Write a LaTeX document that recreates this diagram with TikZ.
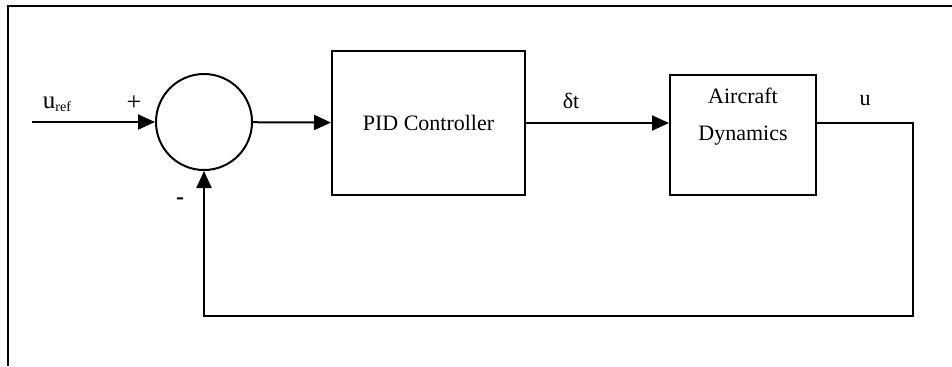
\documentclass[tikz,border=0pt]{standalone}
\usepackage{fontspec}
\setmainfont{Liberation Serif}
\usetikzlibrary{arrows.meta}

\tikzset{
  blk/.style={draw, line width=1pt, inner sep=0pt},
  sig/.style={line width=1pt, -{Triangle[length=8.5pt,width=7.5pt]}},
  lbl/.style={font=\fontsize{11}{12}\selectfont}
}

\begin{document}
\begin{tikzpicture}[x=0.5pt,y=-0.5pt]
    \useasboundingbox (0,0) rectangle (952,366);
    % frame
    \draw[line width=1.2pt] (952,6) -- (8,6) -- (8,366);
    % blocks
    \coordinate (in) at (32,122);
    \node[blk, circle, minimum size=48pt] (sum) at (204,122) {};
    \node[blk, lbl, minimum width=96.5pt, minimum height=72pt] (pid) at (428.5,123) {PID Controller};
    \node[blk, minimum width=73pt, minimum height=60pt] (dyn) at (743,135) {};
    \node[lbl, align=center, font=\fontsize{11}{18.5}\selectfont] (dyntxt) at (743,117) {Aircraft\\Dynamics};
    \coordinate (fb) at (913,316);
    % signals
    \draw[sig] (in) -- (sum);
    \draw[sig] (sum) -- (pid);
    \draw[sig] (pid.east) -- (dyn.west |- pid.east);
    \draw[sig] (dyn.east |- pid.east) -| (fb) -| (sum.south);
    % labels
    \node[font=\fontsize{12.5}{14}\selectfont] (uref) at (57,104) {u{\fontsize{7}{8}\selectfont\raisebox{-1.5pt}{ref}}};
    \node[font=\fontsize{13}{14}\selectfont] (plus) at (134,103) {+};
    \node[font=\fontsize{12}{14}\selectfont\bfseries] (minus) at (180,201) {-};
    \node[lbl] (dt) at (571,101) {δt};
    \node[lbl] (u) at (865,101) {u};
\end{tikzpicture}
\end{document}
